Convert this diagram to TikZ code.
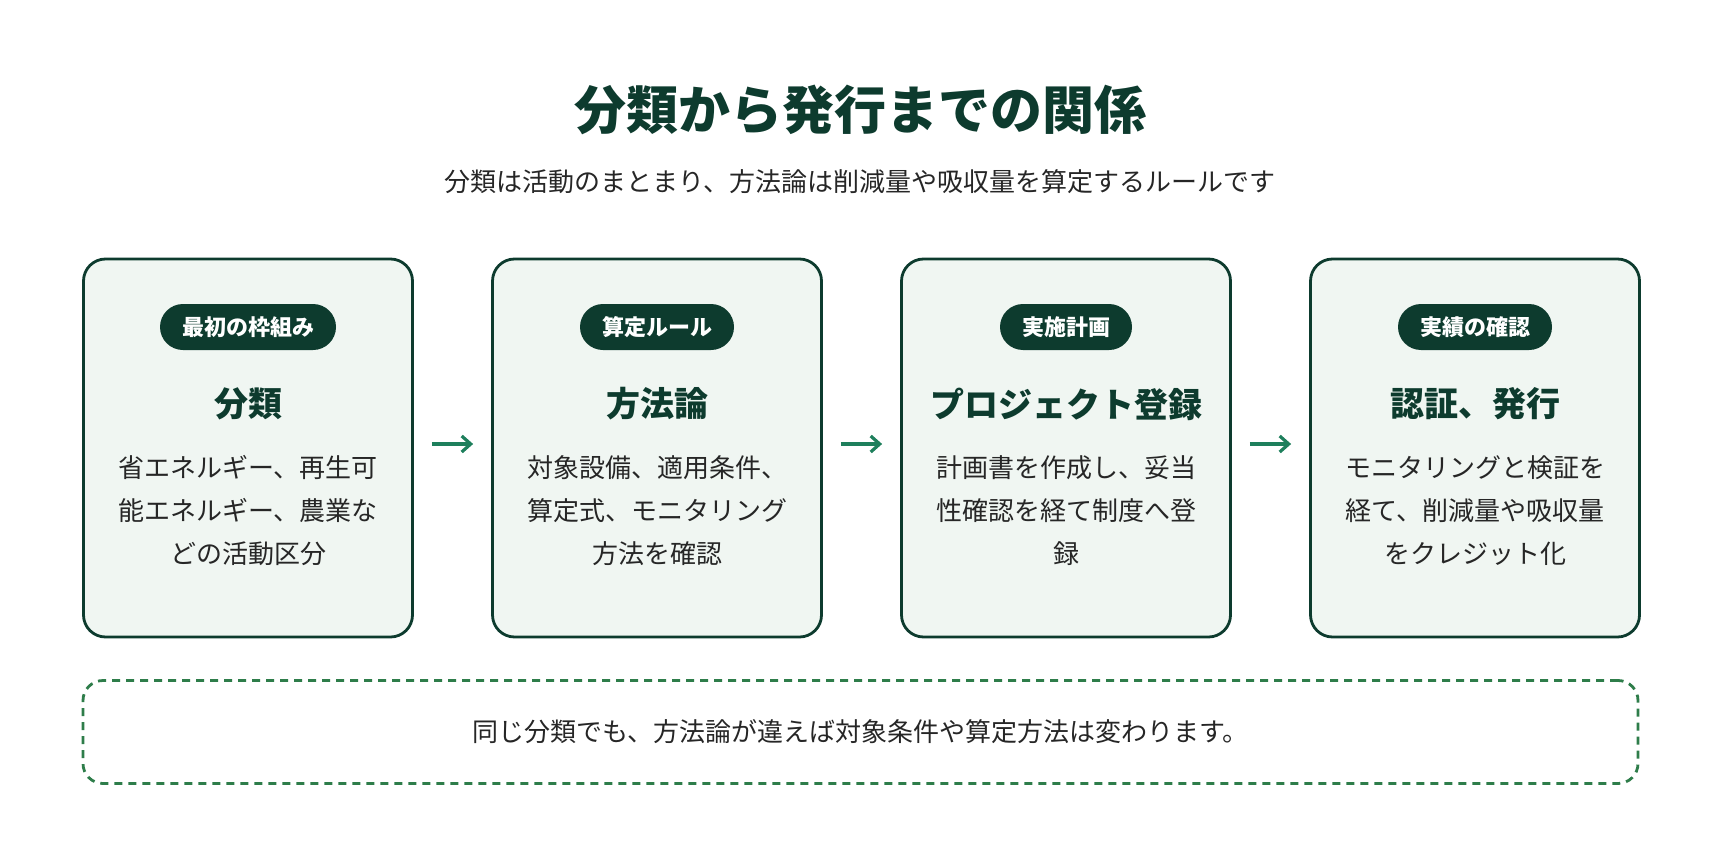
\documentclass[tikz,border=0pt]{standalone}
\usepackage{fontspec}
\setmainfont{Noto Sans CJK JP}
\usetikzlibrary{arrows.meta}
\begin{document}
\definecolor{dk}{HTML}{0D3B2E}
\definecolor{bg}{HTML}{F0F6F2}
\definecolor{ar}{HTML}{1E7F5C}
\definecolor{ds}{HTML}{2E7D4A}
\begin{tikzpicture}[x=1pt,y=-1pt,
 card/.style={draw=dk,line width=2.8pt,fill=bg,rounded corners=22pt,minimum width=329pt,minimum height=378pt},
 pill/.style={fill=dk,text=white,rounded corners=23pt,minimum height=46pt,inner xsep=22pt,font=\fontsize{22}{24}\selectfont\bfseries},
 head/.style={text=dk,font=\fontsize{34}{38}\selectfont\bfseries},
 body/.style={text=black!85,align=center,font=\fontsize{26}{43}\selectfont},
 arr/.style={-{Straight Barb[length=9pt,width=16pt]},draw=ar,line width=3.2pt}]
\useasboundingbox (0,0) rectangle (1720,840);
\node[text=dk,font=\fontsize{52}{58}\selectfont\bfseries] (title) at (860,110) {分類から発行までの関係};
\node[text=black!85,font=\fontsize{26}{30}\selectfont] (sub) at (860,182) {分類は活動のまとまり、方法論は削減量や吸収量を算定するルールです};
\foreach \i/\x/\p/\h/\b in {
 1/248/最初の枠組み/分類/{省エネルギー、再生可\\能エネルギー、農業な\\どの活動区分},
 2/657/算定ルール/方法論/{対象設備、適用条件、\\算定式、モニタリング\\方法を確認},
 3/1066/実施計画/プロジェクト登録/{計画書を作成し、妥当\\性確認を経て制度へ登\\録},
 4/1475/実績の確認/認証、発行/{モニタリングと検証を\\経て、削減量や吸収量\\をクレジット化}}{
 \node[card] (c\i) at (\x,448) {};
 \node[pill] (p\i) at (\x,327) {\p};
 \node[head] (h\i) at (\x,404) {\h};
 \node[body,anchor=north] (b\i) at (\x,452) {\b};
}
\foreach \a/\b in {1/2,2/3,3/4}{
 \draw[arr] ([xshift=18pt,yshift=4pt]c\a.east) -- ([xshift=-18pt,yshift=4pt]c\b.west);
}
\node[draw=ds,line width=2.8pt,dash pattern=on 8pt off 6pt,rounded corners=20pt,minimum width=1555pt,minimum height=103pt,font=\fontsize{26}{30}\selectfont,text=black!85] (note) at (860.5,732) {同じ分類でも、方法論が違えば対象条件や算定方法は変わります。};
\end{tikzpicture}
\end{document}
